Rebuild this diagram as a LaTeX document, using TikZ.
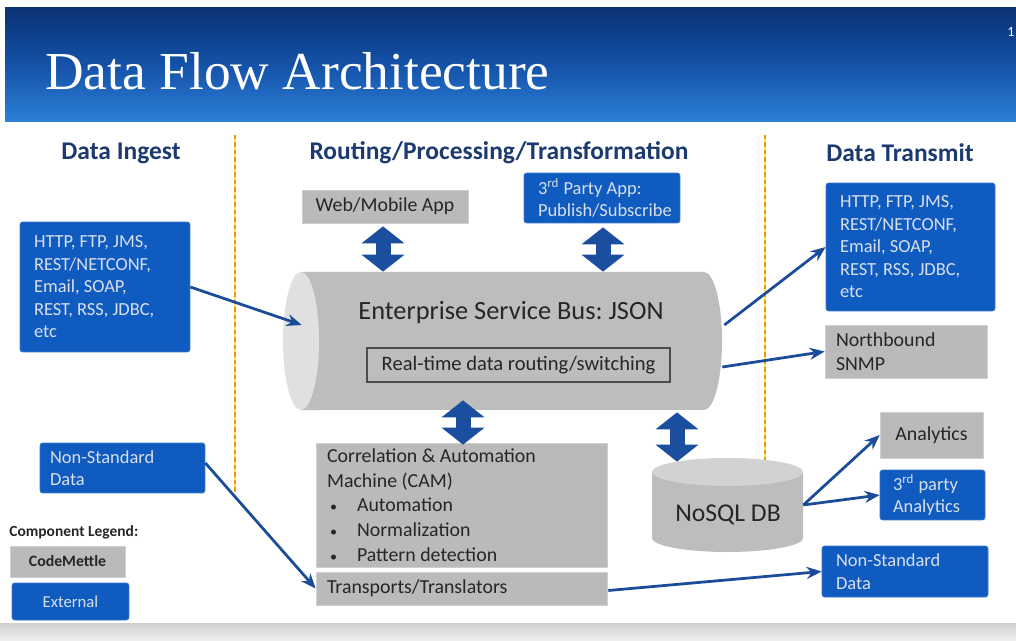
\documentclass[tikz,border=0pt]{standalone}
\usepackage{fontspec}
\setmainfont{Carlito}
\newfontfamily\titlefont{Liberation Serif}
\usetikzlibrary{arrows.meta,calc}
\frenchspacing
\definecolor{hdrTop}{HTML}{0A3274}
\definecolor{hdrMid}{HTML}{1452A8}
\definecolor{hdrBot}{HTML}{2D80D8}
\definecolor{extBlue}{HTML}{0F5BC0}
\definecolor{extEdge}{HTML}{3A78D0}
\definecolor{cmGray}{HTML}{BABABA}
\definecolor{cmEdge}{HTML}{CFCFCF}
\definecolor{navy}{HTML}{1C3A70}
\definecolor{arrBlue}{HTML}{1A4C9A}
\definecolor{dblBlue}{HTML}{1B4E9E}
\definecolor{extText}{HTML}{D9DFEA}
\definecolor{darkText}{HTML}{262626}
\definecolor{sepOrange}{HTML}{EE9A00}
\definecolor{sepYellow}{HTML}{FFE45C}
\definecolor{esbBody}{HTML}{BDBDBD}
\definecolor{esbFace}{HTML}{E0E0E0}
\definecolor{dbTop}{HTML}{D2D2D2}
\newcommand\camitem{\hspace*{0.06cm}\makebox[0.54cm][l]{\footnotesize\textbullet}}
\begin{document}
\begin{tikzpicture}[x=0.02cm,y=-0.02cm,
  extbox/.style={draw=extEdge, fill=extBlue, rounded corners=1.5pt, text=extText,
    font=\fontsize{10.5}{12.8}\selectfont, inner ysep=0pt, align=flush left},
  cmbox/.style={draw=cmEdge, fill=cmGray, text=darkText, inner ysep=0pt,
    font=\fontsize{11.3}{14}\selectfont},
  colhead/.style={font=\bfseries\fontsize{14.5}{17}\selectfont, text=navy},
  conn/.style={draw=arrBlue, line width=0.055cm, -{Stealth[length=0.3cm,width=0.24cm]}},
  dbl/.style={draw=dblBlue, line width=0.3cm,
    {Triangle[width=0.84cm,length=0.34cm]}-{Triangle[width=0.84cm,length=0.34cm]}},
  sepline/.style={draw=sepOrange, line width=0.035cm, dash pattern=on 0.09cm off 0.06cm}
]
\useasboundingbox (0,0) rectangle (1016,641);
\fill[white] (0,0) rectangle (1016,641);
% header bar
\shade[top color=hdrTop, bottom color=hdrBot, middle color=hdrMid] (5,8) rectangle (1016,122);
\node[anchor=base west, text=white, font=\titlefont\fontsize{30.4}{36}\selectfont, inner sep=0pt] (title) at (45,90) {Data Flow Architecture};
\node[text=white, font=\fontsize{8}{9}\selectfont] (pnum) at (1011,32) {1};
% bottom band
\shade[top color=cmEdge, bottom color=white!88!gray] (0,623) rectangle (1016,641);
% separators
\draw[sepYellow, line width=0.05cm] (235,135) -- (235,492);
\draw[sepline] (235,135) -- (235,492);
\draw[sepYellow, line width=0.05cm] (765,135) -- (765,460);
\draw[sepline] (765,135) -- (765,460);
% column headings
\node[colhead] (h1) at (121,153) {Data Ingest};
\node[colhead] (h2) at (499,153) {Routing/Processing/Transformation};
\node[colhead] (h3) at (900,153) {Data Transmit};
% ESB cylinder
\fill[esbBody] (301,272) -- (704,272) arc[start angle=90, end angle=-90, x radius=0.36cm, y radius=1.38cm] -- (301,410) -- cycle;
\fill[esbFace] (301,341) ellipse[x radius=0.36cm, y radius=1.38cm];
\node[minimum width=8.78cm, minimum height=2.76cm, inner sep=0pt] (esb) at (502.5,341) {};
\node[font=\fontsize{15}{18}\selectfont, text=darkText] (esbt) at (511,313) {Enterprise Service Bus: JSON};
\node[draw=black!70, line width=0.7pt, minimum width=6.06cm, minimum height=0.68cm, inner sep=0pt,
  font=\fontsize{11.7}{14}\selectfont, text=darkText] (rtd) at (518.5,365) {Real-time data routing/switching};
% NoSQL cylinder
\fill[esbBody] (652,472) -- (803,472) -- (803,538) arc[start angle=0, end angle=-180, x radius=1.51cm, y radius=0.28cm] -- cycle;
\fill[dbTop] (727.5,472) ellipse[x radius=1.51cm, y radius=0.28cm];
\node[minimum width=3.02cm, minimum height=1.88cm, inner sep=0pt] (nosql) at (727.5,505) {};
\node[font=\fontsize{14.6}{17}\selectfont, text=darkText] (nosqlt) at (728,515) {NoSQL DB};
% left column
\node[extbox, text width=2.84cm, inner xsep=0.28cm, minimum height=2.6cm] (lbox) at (105,287)
  {HTTP, FTP, JMS,\\REST/NETCONF,\\Email, SOAP,\\REST, RSS, JDBC,\\etc};
\node[extbox, text width=2.9cm, inner xsep=0.2cm, minimum height=1.0cm] (nsl) at (122.5,468)
  {Non-Standard\\Data};
% legend
\node[anchor=west, font=\bfseries\fontsize{8.8}{10}\selectfont, text=darkText, inner sep=0pt] (leg) at (9,532) {Component Legend:};
\node[cmbox, minimum width=2.3cm, minimum height=0.62cm, inner xsep=0pt, font=\bfseries\fontsize{9}{11}\selectfont] (lcm) at (67.5,561.5) {CodeMettle};
\node[extbox, minimum width=2.34cm, minimum height=0.74cm, inner xsep=0pt, align=center, font=\fontsize{9.5}{11}\selectfont] (lext) at (70.5,601.5) {External};
% centre column
\node[cmbox, minimum width=3.32cm, minimum height=0.66cm, inner xsep=0pt] (web) at (385,206.5) {Web/Mobile App};
\node[extbox, text width=2.56cm, inner xsep=0.28cm, minimum height=1.0cm] (tpl) at (602,198)
  {3\textsuperscript{rd} Party App:\\Publish/Subscribe};
\node[cmbox, text width=5.38cm, inner xsep=0.22cm, minimum height=2.48cm, align=flush left,
  font=\fontsize{11.3}{14}\selectfont] (cam) at (461.5,505)
  {Correlation \& Automation\\Machine (CAM)\\
   \camitem Automation\\
   \camitem Normalization\\
   \camitem Pattern detection};
\node[cmbox, text width=5.38cm, inner xsep=0.22cm, minimum height=0.66cm, align=flush left] (tt) at (461.5,588.5) {Transports/Translators};
% right column
\node[extbox, text width=2.82cm, inner xsep=0.28cm, minimum height=2.56cm] (rt) at (910.5,247)
  {HTTP, FTP, JMS,\\REST/NETCONF,\\Email, SOAP,\\REST, RSS, JDBC,\\etc};
\node[cmbox, text width=2.8cm, inner xsep=0.22cm, minimum height=1.06cm, align=flush left] (nb) at (906,351.5) {Northbound\\SNMP};
\node[cmbox, minimum width=2.06cm, minimum height=0.92cm, inner xsep=0pt] (an) at (931.5,435) {Analytics};
\node[extbox, text width=1.58cm, inner xsep=0.26cm, minimum height=1.0cm] (tpa) at (932.5,495) {3\textsuperscript{rd} party\\Analytics};
\node[extbox, text width=2.76cm, inner xsep=0.28cm, minimum height=1.02cm] (nsr) at (905,571.5) {Non-Standard\\Data};
% double arrows
\draw[dbl] ($(web.south)+(-2,3)$) -- ($(web.south |- esb.north)+(-2,0)$);
\draw[dbl] ($(tpl.south)+(1,4)$) -- ($(tpl.south |- esb.north)+(1,0)$);
\draw[dbl] ($(cam.north)+(1.5,2)$) -- ($(cam.north |- esb.south)+(1.5,-10)$);
\draw[dbl] ($(nosql.north)+(-50.5,4)$) -- ($(nosql.north |- esb.south)+(-50.5,2)$);
% connectors
\draw[conn] (lbox.east) -- ($(esb.west)+(19,-16)$);
\draw[conn] ($(esb.east)+(2,-16)$) -- (rt.west);
\draw[conn] ($(esb.east)+(0,26)$) -- (nb.west);
\draw[conn] ($(nsl.east)+(0,-5)$) -- (tt.west);
\draw[conn] ($(tt.east)+(1,2)$) -- (nsr.west);
\draw[conn] (nosql.east) -- (an.west);
\draw[conn] (nosql.east) -- (tpa.west);
\end{tikzpicture}
\end{document}
